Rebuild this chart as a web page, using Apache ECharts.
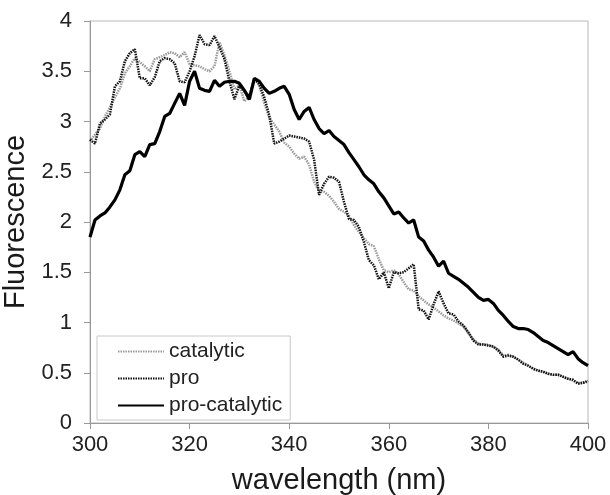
<!DOCTYPE html>
<html>
<head>
<meta charset="utf-8">
<script src="https://cdn.jsdelivr.net/npm/echarts@6/dist/echarts.min.js"></script>
<style>html,body{margin:0;padding:0;background:#fff}#c{width:610px;height:495px}</style>
</head>
<body>
<div id="c"></div>
<script>
var wavelengthStart = 300;
var seriesNames = ['catalytic', 'pro', 'pro-catalytic'];
var catalytic = [2.80,2.87,2.93,3.05,3.14,3.24,3.33,3.48,3.55,3.63,3.59,3.55,3.50,3.62,3.64,3.66,3.69,3.68,3.64,3.69,
 3.57,3.56,3.55,3.52,3.50,3.55,3.79,3.66,3.50,3.32,3.36,3.20,3.25,3.42,3.36,3.18,3.04,2.97,2.90,2.79,
 2.75,2.68,2.63,2.65,2.57,2.40,2.31,2.30,2.26,2.20,2.13,2.10,2.06,1.97,1.90,1.84,1.78,1.76,1.63,1.52,
 1.50,1.52,1.48,1.40,1.33,1.32,1.26,1.22,1.18,1.15,1.11,1.07,1.04,1.02,0.99,0.96,0.89,0.83,0.79,0.78,
 0.78,0.76,0.73,0.67,0.68,0.66,0.63,0.60,0.57,0.54,0.52,0.51,0.49,0.48,0.48,0.46,0.44,0.42,0.40,0.40,0.41];
var pro = [2.82,2.78,2.98,3.02,3.07,3.35,3.40,3.60,3.68,3.72,3.43,3.43,3.36,3.44,3.60,3.63,3.62,3.58,3.40,3.39,
 3.50,3.65,3.86,3.77,3.76,3.85,3.74,3.62,3.40,3.22,3.36,3.30,3.25,3.43,3.37,3.24,3.06,2.78,2.80,2.83,
 2.86,2.85,2.84,2.83,2.80,2.62,2.27,2.38,2.45,2.44,2.40,2.20,2.03,2.02,1.95,1.80,1.62,1.57,1.43,1.50,
 1.34,1.50,1.49,1.50,1.54,1.58,1.13,1.12,1.03,1.18,1.31,1.19,1.09,1.08,1.01,0.97,0.90,0.82,0.78,0.78,
 0.77,0.76,0.72,0.66,0.67,0.66,0.63,0.59,0.57,0.54,0.52,0.51,0.49,0.48,0.48,0.46,0.44,0.43,0.39,0.40,0.42];
var proCatalytic = [1.85,2.02,2.06,2.09,2.15,2.22,2.32,2.47,2.51,2.67,2.70,2.65,2.77,2.78,2.90,3.05,3.08,3.18,3.28,3.16,
 3.40,3.50,3.33,3.31,3.30,3.41,3.35,3.39,3.40,3.40,3.38,3.31,3.22,3.43,3.40,3.33,3.28,3.30,3.33,3.35,
 3.27,3.12,3.02,3.10,3.14,3.02,2.93,2.88,2.91,2.85,2.81,2.77,2.69,2.62,2.55,2.47,2.42,2.38,2.30,2.24,
 2.16,2.08,2.10,2.04,1.99,2.02,1.85,1.81,1.72,1.65,1.56,1.61,1.49,1.46,1.43,1.39,1.35,1.30,1.25,1.22,
 1.23,1.19,1.12,1.07,1.01,0.96,0.94,0.94,0.93,0.90,0.86,0.82,0.80,0.77,0.74,0.71,0.68,0.71,0.64,0.60,0.57];

function pairs(arr){ return arr.map(function(v,i){ return [wavelengthStart + i, v]; }); }
var font = 'Liberation Sans, Arial, sans-serif';
var chart = echarts.init(document.getElementById('c'), null, {renderer:'canvas'});
chart.setOption({
  animation: false,
  backgroundColor: '#fff',
  grid: {left: 90, right: 22, top: 21, bottom: 72, containLabel: false, outerBoundsMode: 'none',
         show: true, borderColor: '#b8b8b8', borderWidth: 1, backgroundColor: 'transparent'},
  xAxis: {
    type: 'value', min: 300, max: 400, interval: 20,
    name: 'wavelength (nm)', nameLocation: 'middle', nameGap: 43,
    nameTextStyle: {fontFamily: font, fontSize: 29, color: '#1a1a1a'},
    axisLine: {show: true, lineStyle: {color: '#999', width: 1}},
    axisTick: {show: true, inside: false, length: 6, lineStyle: {color: '#999'}},
    axisLabel: {fontFamily: font, fontSize: 22, color: '#222', margin: 11, showMaxLabel: true},
    splitLine: {show: false}
  },
  yAxis: {
    type: 'value', min: 0, max: 4, interval: 0.5,
    name: 'Fluorescence', nameLocation: 'middle', nameGap: 52,
    nameTextStyle: {fontFamily: font, fontSize: 29, color: '#1a1a1a'},
    axisLine: {show: true, lineStyle: {color: '#999', width: 1}},
    axisTick: {show: true, inside: false, length: 6, lineStyle: {color: '#999'}},
    axisLabel: {fontFamily: font, fontSize: 22, color: '#222', margin: 18},
    splitLine: {show: false}
  },
  legend: {
    orient: 'vertical', left: 97, top: 336,
    data: seriesNames,
    itemWidth: 46, itemHeight: 14, itemGap: 6,
    padding: [5, 8, 4, 20],
    itemStyle: {opacity: 0},
    borderColor: '#c8c8c8', borderWidth: 1, backgroundColor: '#fff',
    textStyle: {fontFamily: font, fontSize: 21, color: '#222'}
  },
  series: [
    {name: seriesNames[0], type: 'line', data: pairs(catalytic), symbol: 'none', z: 2,
     lineStyle: {color: '#9a9a9a', width: 2.5, type: [1.5, 1]}, itemStyle: {color: '#9a9a9a'}},
    {name: seriesNames[1], type: 'line', data: pairs(pro), symbol: 'none', z: 3,
     lineStyle: {color: '#111', width: 2.5, type: [1.5, 1]}, itemStyle: {color: '#111'}},
    {name: seriesNames[2], type: 'line', data: pairs(proCatalytic), symbol: 'none', z: 4,
     lineStyle: {color: '#000', width: 3.2, type: 'solid'}, itemStyle: {color: '#000'}}
  ]
});
</script>
</body>
</html>
